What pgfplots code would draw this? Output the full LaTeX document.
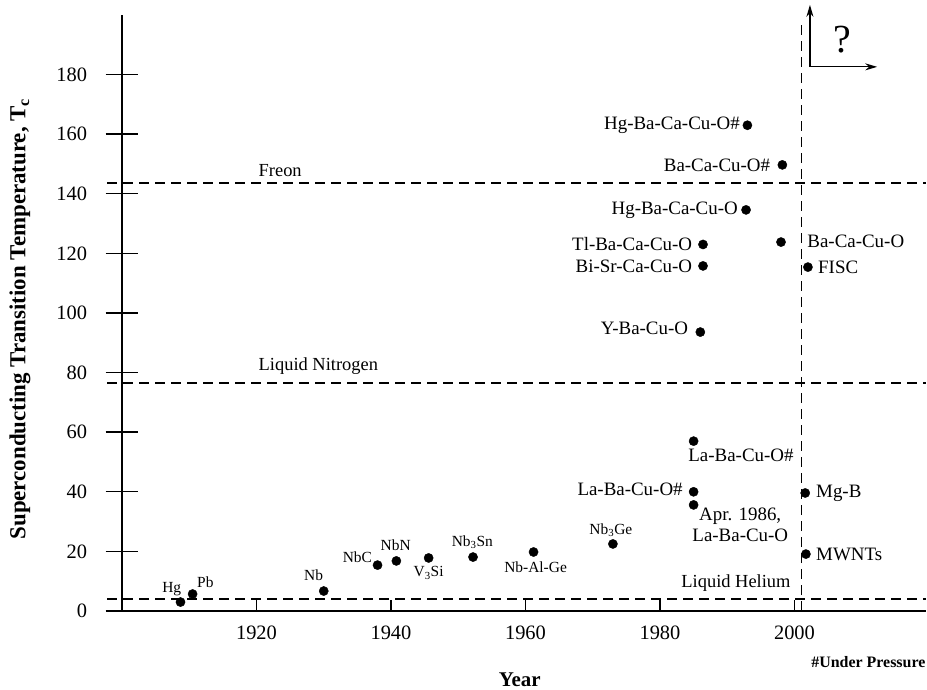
\documentclass[border=0pt]{standalone}
\usepackage{pgfplots}
\pgfplotsset{compat=1.18}
\usepackage{fontspec}
\setmainfont{Liberation Serif}
\usetikzlibrary{arrows.meta}
\newcommand{\fs}[1]{\fontsize{#1}{#1}\selectfont}
\tikzset{
  lab/.style={inner sep=0pt, font=\fs{19}},
  sm/.style={inner sep=0pt, font=\fs{15.5}},
  lref/.style={inner sep=0pt, font=\fs{18.5}},
}

\pgfplotstableread{
year Tc
1908.7 3.0
1910.5 5.7
1930.0 6.7
1938.0 15.4
1940.8 16.8
1945.6 17.8
1952.2 18.1
1961.2 19.8
1973.0 22.5
1985.0 57.0
1985.0 40.0
1985.0 35.6
1986.0 93.6
1986.4 115.8
1986.4 123.0
1992.8 134.6
1993.0 163.0
1998.2 149.7
1998.0 123.8
2002.0 115.4
2001.6 39.6
2001.7 19.1
}\sctable

\begin{document}
\begin{tikzpicture}
\useasboundingbox (-122bp,-79bp) rectangle (805bp,611bp);
\begin{axis}[
  at={(0,0)}, anchor=south west,
  scale only axis, width=803.6bp, height=596bp,
  xmin=1900, xmax=2019.5, ymin=0, ymax=200,
  axis x line=bottom, axis y line=left,
  x axis line style={-, line width=1.4bp},
  y axis line style={-, line width=2bp},
  xtick=\empty,
  extra x ticks={1920,1940,1960,1980,2000},
  extra x tick style={tick align=inside, major tick length=11bp,
     tick style={line width=1.2bp, black},
     tick label style={font=\fs{20.5}, yshift=-11bp}},
  ytick={0,20,...,180},
  ytick align=center,
  major tick length=33bp,
  ytick style={line width=1.4bp, black},
  yticklabel style={font=\fs{20.5}, xshift=-15bp},
  /pgf/number format/1000 sep={},
  /pgf/number format/assume math mode=true,
  xlabel={Year},
  ylabel={Superconducting Transition Temperature, T\textsubscript{c}},
  xlabel style={font=\bfseries\fs{21}, at={(axis description cs:0.495,-0.116)}, anchor=center},
  ylabel style={font=\bfseries\fs{23}, at={(axis description cs:-0.127,0.49)}, anchor=center},
  clip=false,
]
% reference lines
\addplot[black, line width=1.3bp, dash pattern=on 10bp off 6bp] coordinates {(1897.8,143.6) (2019.5,143.6)};
\addplot[black, line width=1.3bp, dash pattern=on 10bp off 6bp] coordinates {(1897.8,76.5) (2019.5,76.5)};
\addplot[black, line width=1.3bp, dash pattern=on 10bp off 6bp] coordinates {(1897.8,4.0) (2019.5,4.0)};
\addplot[black, line width=1.3bp, dash pattern=on 10bp off 6bp] coordinates {(2001,0) (2001,198.3)};
% data points
\addplot[only marks, mark=*, mark size=4.6bp, black] table[x=year, y=Tc] {\sctable};

% line labels
\node[lref, anchor=west] at (axis cs:1920.3,147.7) {Freon};
\node[lref, anchor=west] at (axis cs:1920.3,82.2) {Liquid Nitrogen};
\node[lref] at (axis cs:1991.3,9.4) {Liquid Helium};

% point labels
\node[sm] at (axis cs:1907.4,7.4) {Hg};
\node[sm] at (axis cs:1912.4,9.7) {Pb};
\node[sm] at (axis cs:1928.5,12.1) {Nb};
\node[sm] at (axis cs:1935.0,18.1) {NbC};
\node[sm] at (axis cs:1940.7,22.1) {NbN};
\node[sm] at (axis cs:1945.6,12.8) {V\textsubscript{3}Si};
\node[sm] at (axis cs:1952.1,23.2) {Nb\textsubscript{3}Sn};
\node[sm] at (axis cs:1961.5,14.8) {Nb-Al-Ge};
\node[sm] at (axis cs:1972.7,27.2) {Nb\textsubscript{3}Ge};

\node[lab, anchor=west] at (axis cs:1984.2,52.3) {La-Ba-Cu-O\#};
\node[lab, anchor=east] at (axis cs:1983.4,40.9) {La-Ba-Cu-O\#};
\node[lab, anchor=west] at (axis cs:1985.8,31.9) {Apr. 1986,};
\node[lab, anchor=west] at (axis cs:1984.8,25.5) {La-Ba-Cu-O};
\node[lab, anchor=east] at (axis cs:1984.2,95.0) {Y-Ba-Cu-O};
\node[lab, anchor=east] at (axis cs:1984.8,115.8) {Bi-Sr-Ca-Cu-O};
\node[lab, anchor=east] at (axis cs:1984.8,123.2) {Tl-Ba-Ca-Cu-O};
\node[lab, anchor=east] at (axis cs:1991.6,134.6) {Hg-Ba-Ca-Cu-O};
\node[lab, anchor=east] at (axis cs:1991.9,163.1) {Hg-Ba-Ca-Cu-O\#};
\node[lab, anchor=east] at (axis cs:1996.4,149.7) {Ba-Ca-Cu-O\#};
\node[lab, anchor=west] at (axis cs:2001.9,124.2) {Ba-Ca-Cu-O};
\node[lab, anchor=west] at (axis cs:2003.5,115.4) {FISC};
\node[lab, anchor=west] at (axis cs:2003.2,39.6) {Mg-B};
\node[lab, anchor=west] at (axis cs:2003.2,19.1) {MWNTs};

% question arrows
\draw[black, line width=1.3bp, -{Stealth[length=12bp, width=7bp]}] (axis cs:2002.3,182.6) -- (axis cs:2002.3,203.4);
\draw[black, line width=1.3bp, -{Stealth[length=12bp, width=7bp]}] (axis cs:2002.3,182.6) -- (axis cs:2012.3,182.6);
\node[inner sep=0pt, font=\fs{40}] at (axis cs:2007.1,191.6) {?};

\node[anchor=east, inner sep=0pt, font=\bfseries\fs{16}] at (axis description cs:1.0,-0.0856) {\#Under Pressure};
\end{axis}
\end{tikzpicture}
\end{document}
